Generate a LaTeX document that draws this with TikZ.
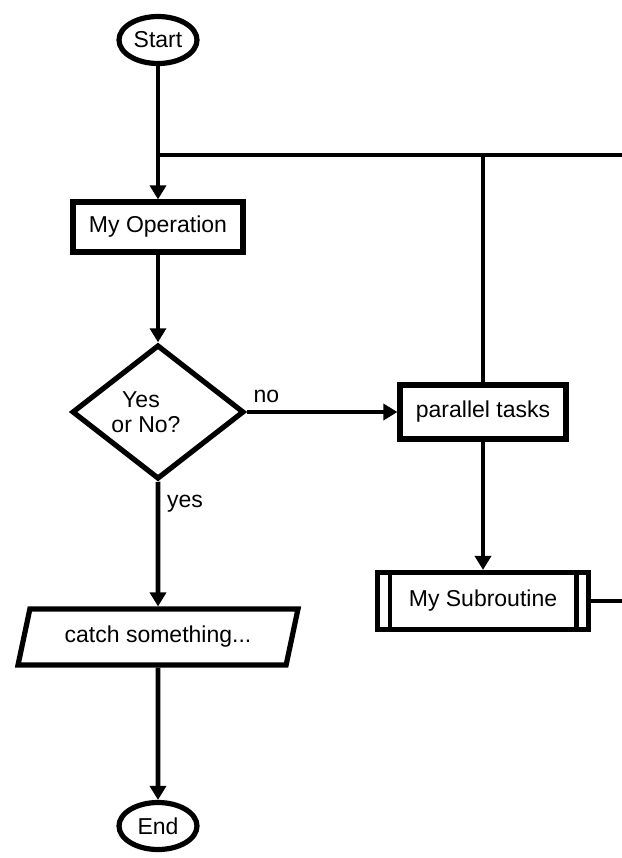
\documentclass[tikz,border=0pt]{standalone}
\usepackage{fontspec}
\setmainfont{Liberation Sans}
\usetikzlibrary{shapes.geometric, arrows.meta, positioning}

\begin{document}
\begin{tikzpicture}[
    on grid,
    font=\fontsize{11.5}{13.6}\selectfont,
    terminal/.style={
        ellipse,
        draw,
        line width=2.6pt,
        minimum width=39pt,
        minimum height=23.5pt,
        inner sep=0pt
    },
    block/.style={
        rectangle,
        draw,
        line width=2.6pt,
        minimum width=85pt,
        minimum height=25pt,
        inner sep=0pt
    },
    decision/.style={
        diamond,
        draw,
        line width=2.6pt,
        minimum width=86pt,
        minimum height=62.5pt,
        inner sep=0pt,
        align=center
    },
    io/.style={
        trapezium,
        trapezium left angle=61,
        trapezium right angle=119,
        trapezium stretches body,
        draw,
        line width=2.6pt,
        minimum width=140pt,
        minimum height=28pt,
        inner sep=0pt
    },
    subroutine/.style={
        block,
        minimum width=105.5pt,
        minimum height=28.5pt
    },
    line/.style={
        draw,
        line width=2.4pt
    },
    arrow/.style={
        line,
        -{Triangle[width=8pt,length=7pt]}
    }
]
    \useasboundingbox (0,0) rectangle (311pt,-429pt);

    % --- Nodes ---

    % Left column
    \node [terminal] (start) at (79pt,-20pt) {Start};
    \node [block, below=93.5pt of start] (op) {My Operation};
    \node [decision, below=92.5pt of op] (check) {Yes\hspace*{17pt}\\[-1pt]or No?\hspace*{12pt}};
    \node [io, below=112.5pt of check] (catch) {catch something...};
    \node [terminal, below=94.5pt of catch] (end) {End};

    % Right column
    \node [block, minimum width=83pt, minimum height=27pt, right=162.5pt of check] (par) {parallel tasks};
    \node [subroutine, below=94.5pt of par] (sub) {My Subroutine};
    \draw [line] ([xshift=7.5pt]sub.north west) -- ([xshift=7.5pt]sub.south west);
    \draw [line] ([xshift=-7.5pt]sub.north east) -- ([xshift=-7.5pt]sub.south east);

    % Split point and right edge
    \coordinate [below=57.5pt of start] (split);
    \coordinate [right=232pt of split] (loop);

    % --- Connections ---
    \draw [arrow] (start) -- (op);
    \draw [line] (split) -- (loop);
    \draw [line] (split -| par) -- (par.north);
    \draw [arrow] (op) -- (check);
    \draw [arrow] (check.east) -- node[pos=0, above right, xshift=-1pt] {no} (par);
    \draw [arrow] (check.south) -- node[pos=0, below right, yshift=-2pt] {yes} (catch);
    \draw [arrow] (catch) -- (end);
    \draw [arrow] (par) -- (sub);
    \draw [line] (sub.east) -- (sub.east -| loop);

\end{tikzpicture}
\end{document}
